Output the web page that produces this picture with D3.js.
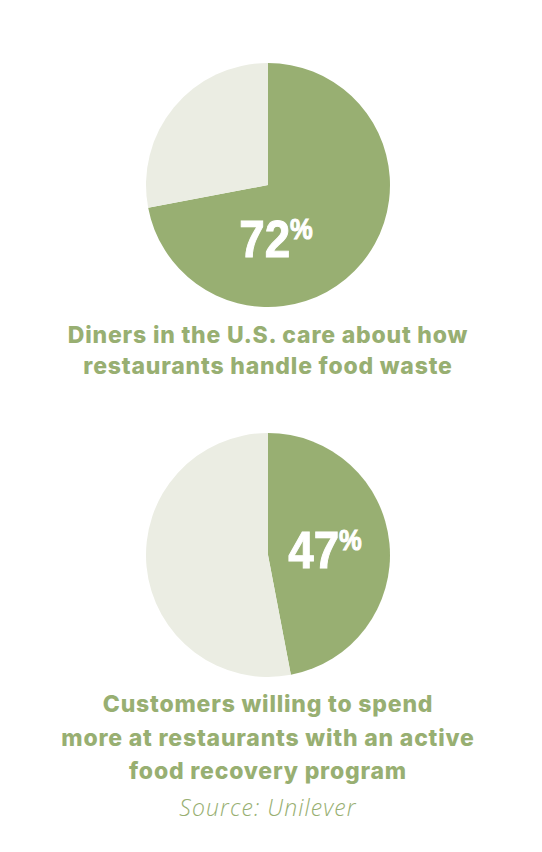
<!DOCTYPE html>
<html><head><meta charset="utf-8">
<script src="https://cdn.jsdelivr.net/npm/d3@7"></script>
<style>
html,body{margin:0;padding:0;background:#fff;}
svg{display:block;}
</style></head>
<body>
<svg id="chart" width="542" height="852"></svg>
<script>
const charts = ["diners", "customers"];
const percentValues = [72, 47];
const captions = [
  ["Diners in the U.S. care about how", "restaurants handle food waste"],
  ["Customers willing to spend", "more at restaurants with an active", "food recovery program"]
];
const sourceText = "Source: Unilever";

const green = "#98AF72", light = "#EBEDE3";
const svg = d3.select("#chart");
const cx = 268, R = 122;
const centersY = [185, 555];
const labelCenters = [[276, 257], [325, 568]];
const captionY = [343, 712];
const lineGap = [31, 33.5];

const pie = d3.pie().sort(null).value(d => d);
const arc = d3.arc().innerRadius(0).outerRadius(R);

charts.forEach((c, i) => {
  const g = svg.append("g").attr("transform", `translate(${cx},${centersY[i]})`);
  const data = pie([percentValues[i], 100 - percentValues[i]]);
  g.selectAll("path").data(data).join("path")
    .attr("d", arc)
    .attr("fill", (d, j) => j === 0 ? green : light);

  const lg = svg.append("g")
    .attr("transform", `translate(${labelCenters[i][0]},${labelCenters[i][1]}) scale(0.88,1)`);
  const t = lg.append("text")
    .attr("text-anchor", "middle")
    .attr("fill", "#fff")
    .style("font-family", "'Liberation Sans', Arial, sans-serif")
    .style("font-weight", "bold")
    .style("stroke", "#fff").style("stroke-width", "1px");
  t.append("tspan").style("font-size", "52px").text(percentValues[i]);
  t.append("tspan").style("font-size", "29px").attr("dy", -18).text("%");

  const cap = svg.append("text")
    .attr("text-anchor", "middle")
    .attr("fill", green)
    .style("font-family", "Inter, 'Liberation Sans', sans-serif")
    .style("font-weight", 800)
    .style("font-size", "23px")
    .style("letter-spacing", "0.8px");
  captions[i].forEach((line, k) => {
    cap.append("tspan").attr("x", 268).attr("y", captionY[i] + k * lineGap[i]).text(line);
  });
});

svg.append("text")
  .attr("x", 268).attr("y", 816)
  .attr("text-anchor", "middle")
  .attr("fill", green)
  .style("font-family", "'Open Sans', sans-serif")
  .style("font-style", "italic")
  .style("font-weight", 300)
  .style("font-size", "23px")
  .style("letter-spacing", "1.1px")
  .text(sourceText);
</script>
</body></html>
